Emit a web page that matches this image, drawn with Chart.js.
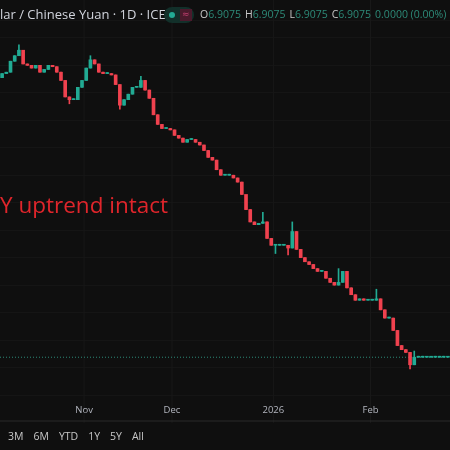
<!DOCTYPE html>
<html><head><meta charset="utf-8">
<script src="https://cdn.jsdelivr.net/npm/chart.js@4"></script>
<style>html,body{margin:0;background:#0f0f0f;}#w{width:450px;height:450px;position:relative}</style>
</head><body><div id="w"><canvas id="c"></canvas></div>
<script>
const closes = [7.114,7.115,7.123,7.127,7.131,7.121,7.120,7.118,7.120,7.115,7.117,7.120,7.119,7.115,7.109,7.097,7.095,7.095,7.104,7.109,
7.118,7.124,7.121,7.115,7.114,7.114,7.113,7.106,7.091,7.095,7.099,7.104,7.104,7.109,7.102,7.096,7.084,7.077,7.074,7.074,
7.073,7.069,7.067,7.064,7.066,7.066,7.064,7.062,7.058,7.053,7.051,7.044,7.040,7.040,7.040,7.038,7.035,7.026,7.015,7.006,
7.004,7.005,7.006,6.994,6.989,6.989,6.989,6.989,6.987,6.999,6.986,6.980,6.977,6.975,6.972,6.970,6.970,6.965,6.962,6.960,
6.962,6.970,6.958,6.953,6.949,6.950,6.949,6.949,6.949,6.950,6.942,6.936,6.936,6.927,6.916,6.913,6.911,6.902,6.9075,
6.9075,6.9075,6.9075,6.9075,6.9075,6.9075,6.9075,6.9075];
const firstOpen = 7.111;
const wickHigh = {4:7.135,21:7.127,33:7.112,58:7.020,62:7.013,69:7.006,80:6.972,89:6.957,98:6.912};
const wickLow = {16:7.092,28:7.088,65:6.983,68:6.982,97:6.899};
const monthTicks = [{label:'Nov',idx:19.5},{label:'Dec',idx:40.4},{label:'2026',idx:64.5},{label:'Feb',idx:87.6}];
const lastPrice = 6.9075;
const ranges = ['3M','6M','YTD','1Y','5Y','All'];

const labels = closes.map((_,i)=>String(i));
const opens = closes.map((c,i)=> i===0 ? firstOpen : closes[i-1]);
const bodies = closes.map((c,i)=>[opens[i],c]);
const wicks = closes.map((c,i)=>[wickLow[i]??Math.min(opens[i],c), wickHigh[i]??Math.max(opens[i],c)]);
const col = closes.map((c,i)=> c>=opens[i] ? '#22ab94' : '#f0424f');

const deco = {
  id:'deco',
  beforeDatasetsDraw(ch){
    const {ctx,chartArea:a,scales:{x,y}} = ch;
    ctx.save();
    ctx.strokeStyle='#181818'; ctx.lineWidth=1;
    monthTicks.forEach(t=>{const px=a.left+(t.idx+0.5)*(a.right-a.left)/closes.length;
      ctx.beginPath();ctx.moveTo(px,0);ctx.lineTo(px,a.bottom+28);ctx.stroke();});
    const py=y.getPixelForValue(lastPrice);
    ctx.strokeStyle='#2d8a78'; ctx.setLineDash([1,2]);
    ctx.beginPath();ctx.moveTo(0,py);ctx.lineTo(450,py);ctx.stroke();
    ctx.restore();
  },
  afterDraw(ch){
    const {ctx,chartArea:a} = ch;
    ctx.save();
    ctx.font='13px "Open Sans"'; ctx.fillStyle='#d1d4dc'; ctx.textBaseline='middle';
    ctx.fillText('lar / Chinese Yuan · 1D · ICE',0,15);
    ctx.fillStyle='#12302a'; ctx.beginPath(); ctx.roundRect(164,7,30,16,8); ctx.fill();
    ctx.fillStyle='#22ab94'; ctx.beginPath(); ctx.arc(172,15,3,0,7); ctx.fill();
    ctx.fillStyle='#4a1a2c'; ctx.fillRect(180,9,12,12);
    ctx.fillStyle='#c04070'; ctx.font='9px DejaVu Sans'; ctx.fillText('≈',182,15);
    let xx=200; ctx.font='10.5px "Open Sans"';
    [['O','6.9075'],['H','6.9075'],['L','6.9075'],['C','6.9075'],['','0.0000 (0.00%)']].forEach(([k,v])=>{
      ctx.fillStyle='#c8c8c8'; ctx.fillText(k,xx,15); xx+=ctx.measureText(k).width;
      ctx.fillStyle='#2d8a78'; ctx.fillText(v,xx,15); xx+=ctx.measureText(v).width+4;});
    ctx.fillStyle='#e0252b'; ctx.font='22.5px "Open Sans"';
    ctx.fillText('Y uptrend intact',0,207);
    ctx.fillStyle='#b2b5be'; ctx.font='9.5px "Open Sans"'; ctx.textAlign='center';
    monthTicks.forEach(t=>{const px=a.left+(t.idx+0.5)*(a.right-a.left)/closes.length; ctx.fillText(t.label,px,410);});
    ctx.strokeStyle='#2a2a2a'; ctx.beginPath(); ctx.moveTo(0,421); ctx.lineTo(450,421); ctx.stroke();
    ctx.textAlign='left'; ctx.font='10.5px "Open Sans"'; ctx.fillStyle='#c8c8c8';
    let bx=8; ranges.forEach(r=>{ctx.fillText(r,bx,437); bx+=ctx.measureText(r).width+10;});
    ctx.restore();
  }
};

new Chart(document.getElementById('c'),{
  type:'bar',
  data:{labels,datasets:[
    {data:wicks,backgroundColor:col,barThickness:1,grouped:false,minBarLength:1},
    {data:bodies,backgroundColor:col,barThickness:3,grouped:false,minBarLength:1}
  ]},
  options:{responsive:true,maintainAspectRatio:false,animation:false,
    layout:{padding:{top:20,bottom:55,left:0,right:0}},
    plugins:{legend:{display:false},tooltip:{enabled:false}},
    scales:{
      x:{display:false,offset:true},
      y:{min:6.880,max:7.153,position:'right',display:true,
        ticks:{display:false,stepSize:0.02},border:{display:false},
        grid:{color:'#151515',drawTicks:false}}
    }},
  plugins:[deco]
});
</script></body></html>
